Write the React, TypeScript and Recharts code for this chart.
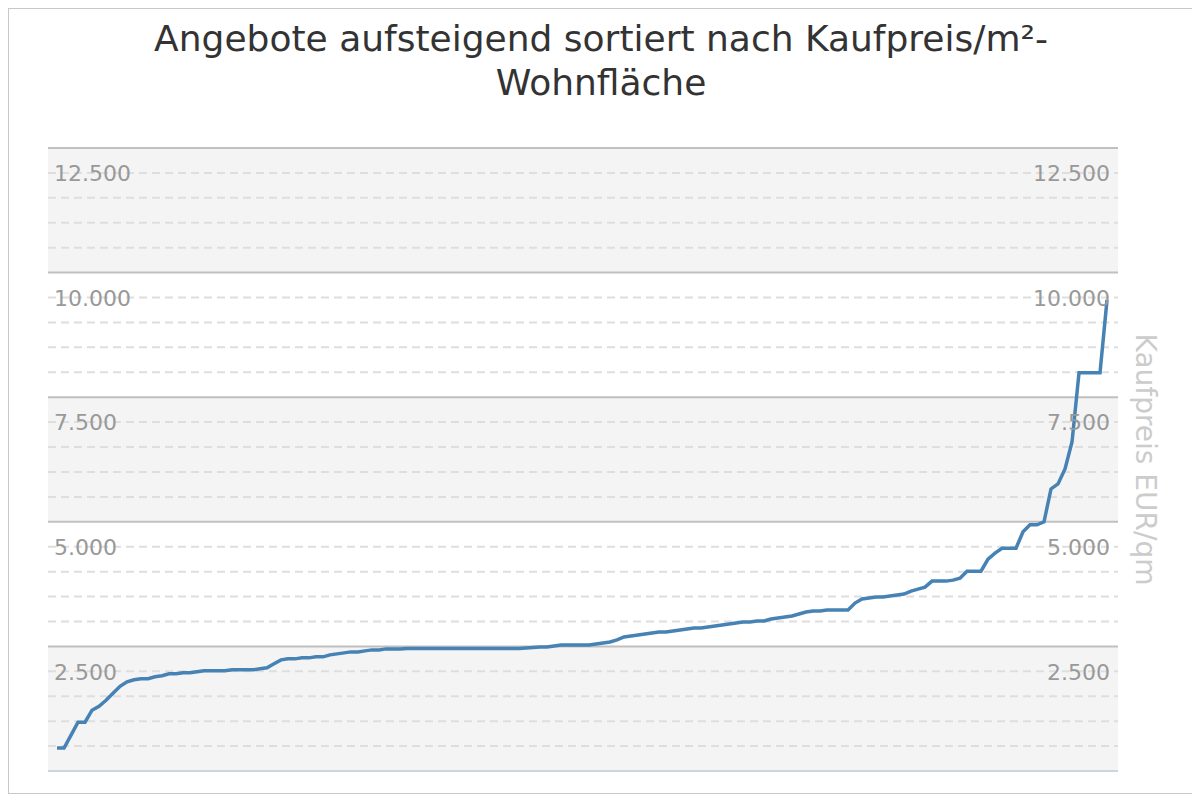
import { LineChart, Line, XAxis, YAxis, ReferenceArea, ReferenceLine } from 'recharts';

// Kaufpreis je m² Wohnfläche, Angebote aufsteigend sortiert
const prices = [
    960, 960, 1220, 1480, 1480, 1720, 1800, 1920, 2060, 2200,
    2290, 2330, 2350, 2350, 2390, 2410, 2450, 2450, 2470, 2470,
    2490, 2510, 2510, 2510, 2510, 2530, 2530, 2530, 2530, 2550,
    2570, 2650, 2730, 2750, 2750, 2770, 2770, 2790, 2790, 2830,
    2850, 2870, 2890, 2890, 2910, 2930, 2930, 2950, 2950, 2950,
    2960, 2960, 2960, 2960, 2960, 2960, 2960, 2960, 2960, 2960,
    2960, 2960, 2960, 2960, 2960, 2960, 2960, 2970, 2980, 2990,
    2990, 3010, 3030, 3030, 3030, 3030, 3030, 3050, 3070, 3090,
    3130, 3190, 3210, 3230, 3250, 3270, 3290, 3290, 3310, 3330,
    3350, 3370, 3370, 3390, 3410, 3430, 3450, 3470, 3490, 3490,
    3510, 3510, 3550, 3570, 3590, 3610, 3650, 3690, 3710, 3710,
    3730, 3730, 3730, 3730, 3870, 3950, 3970, 3990, 3990, 4010,
    4030, 4050, 4110, 4150, 4190, 4310, 4310, 4310, 4330, 4370,
    4510, 4510, 4510, 4750, 4870, 4970, 4970, 4970, 5300, 5440,
    5440, 5500, 6160, 6260, 6560, 7100, 8490, 8490, 8490, 8490,
    9950,
];

const yTicks = [2500, 5000, 7500, 10000, 12500];
const bands = [
    [500, 3000],
    [5500, 8000],
    [10500, 13000],
];
const majorLines = [3000, 5500, 8000, 10500, 13000];
const minorLines = [
    1000, 1500, 2000, 2500, 3500, 4000, 4500, 5000, 6000, 6500,
    7000, 7500, 8500, 9000, 9500, 10000, 11000, 11500, 12000, 12500,
];

const data = prices.map((price, i) => ({ rank: i + 1, price }));

const FONT = '"DejaVu Sans", Verdana, sans-serif';
const W = 1184;
const H = 784;
const LEFT_W = 39;
const RIGHT_W = 75;
const PLOT_RIGHT = W - RIGHT_W;

const fmt = (v: number) => String(v).replace(/\B(?=(\d{3})+(?!\d))/g, '.');

const LeftTick = ({ y, payload }: any) => (
    <text x={LEFT_W + 6} y={y} dy="0.38em" textAnchor="start" fill="#999" fontSize={22} fontFamily={FONT}>
        {fmt(payload.value)}
    </text>
);

const RightTick = ({ y, payload }: any) => (
    <text x={PLOT_RIGHT - 8} y={y} dy="0.38em" textAnchor="end" fill="#999" fontSize={22} fontFamily={FONT}>
        {fmt(payload.value)}
    </text>
);

const AxisTitle = ({ viewBox }: any) => {
    const cx = viewBox.x + 27;
    const cy = viewBox.y + viewBox.height / 2;
    return (
        <text
            x={cx}
            y={cy}
            transform={`rotate(90 ${cx} ${cy})`}
            textAnchor="middle"
            dominantBaseline="central"
            fill="#cccccc"
            fontSize={28}
            fontFamily={FONT}
        >
            Kaufpreis EUR/qm
        </text>
    );
};

export default function App() {
    return (
        <div
            style={{
                position: 'relative',
                width: W,
                height: H,
                border: '1px solid #c8c8c8',
                boxShadow: '2px 2px 3px rgba(0,0,0,0.2)',
                background: '#fff',
                fontFamily: FONT,
            }}
        >
            <div
                style={{
                    position: 'absolute',
                    top: 8,
                    left: 0,
                    width: '100%',
                    textAlign: 'center',
                    fontSize: 36,
                    lineHeight: '44px',
                    color: '#333',
                }}
            >
                Angebote aufsteigend sortiert nach Kaufpreis/m²-
                <br />
                Wohnfläche
            </div>
            <LineChart width={W} height={H} data={data} margin={{ top: 139, right: 0, bottom: 22, left: 0 }}>
                {bands.map(([a, b]) => (
                    <ReferenceArea
                        key={`band-${a}`}
                        yAxisId="left"
                        y1={a}
                        y2={b}
                        fill="#f4f4f4"
                        fillOpacity={1}
                        stroke="none"
                    />
                ))}
                {minorLines.map((v) => (
                    <ReferenceLine
                        key={`minor-${v}`}
                        yAxisId="left"
                        y={v}
                        stroke="#dedede"
                        strokeWidth={2}
                        strokeDasharray="8 5"
                    />
                ))}
                {majorLines.map((v) => (
                    <ReferenceLine key={`major-${v}`} yAxisId="left" y={v} stroke="#c0c0c0" strokeWidth={2} />
                ))}
                <ReferenceLine yAxisId="left" y={500} stroke="#ccd6e0" strokeWidth={2} />
                <XAxis dataKey="rank" type="number" hide domain={[-0.29, 152.57]} allowDataOverflow />
                <YAxis
                    yAxisId="left"
                    orientation="left"
                    width={LEFT_W}
                    domain={[500, 13000]}
                    ticks={yTicks}
                    axisLine={false}
                    tickLine={false}
                    tick={<LeftTick />}
                    allowDataOverflow
                />
                <YAxis
                    yAxisId="right"
                    orientation="right"
                    width={RIGHT_W}
                    domain={[500, 13000]}
                    ticks={yTicks}
                    axisLine={false}
                    tickLine={false}
                    tick={<RightTick />}
                    label={<AxisTitle />}
                    allowDataOverflow
                />
                <Line
                    yAxisId="left"
                    type="linear"
                    dataKey="price"
                    stroke="#4682b4"
                    strokeWidth={3.5}
                    dot={false}
                    isAnimationActive={false}
                />
            </LineChart>
        </div>
    );
}
